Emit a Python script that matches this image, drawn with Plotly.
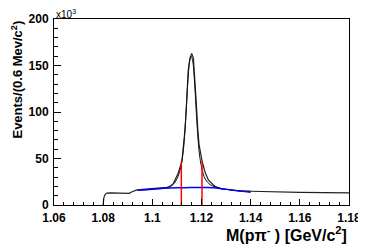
import plotly.graph_objects as go

# data (values in units of 10^3 events)
mass = [1.0800, 1.0803, 1.0808, 1.0815, 1.0830, 1.0850, 1.0870, 1.0890, 1.0905, 1.0920,
        1.0935, 1.0960, 1.1000, 1.1040, 1.1060, 1.1072, 1.1085, 1.1092, 1.1105, 1.1120,
        1.1128, 1.1133, 1.1140, 1.1146, 1.1153, 1.1160, 1.1167, 1.1171, 1.1178, 1.1185,
        1.1190, 1.1203, 1.1215, 1.1228, 1.1245, 1.1255, 1.1280, 1.1320, 1.1360, 1.1400,
        1.1500, 1.1600, 1.1700, 1.1800]
events = [0, 8, 11.5, 12.8, 13.0, 12.8, 12.5, 12.2, 12.5, 14.5,
          16.0, 16.8, 17.5, 18.3, 19.0, 20.0, 23.0, 27.0, 34.0, 46.5,
          65.0, 81.0, 113.0, 145.0, 158.0, 163.0, 158.0, 145.0, 113.0, 81.0,
          65.0, 46.5, 35.0, 27.0, 22.0, 20.0, 17.5, 16.0, 15.0, 14.8,
          14.0, 13.6, 13.3, 13.0]

fit_mass = [1.0940, 1.1000, 1.1050, 1.1080, 1.1100, 1.1115, 1.1125, 1.1135, 1.1145, 1.1152,
            1.1158, 1.1164, 1.1171, 1.1181, 1.1191, 1.1201, 1.1215, 1.1235, 1.1260, 1.1300,
            1.1350, 1.1400]
fit_vals = [16.0, 17.0, 18.3, 21.0, 28.0, 40.0, 56.0, 90.0, 135.0, 155.0,
            160.0, 155.0, 135.0, 90.0, 56.0, 40.0, 28.0, 22.0, 19.0, 16.8,
            15.5, 14.8]

bkg_mass = [1.094, 1.100, 1.105, 1.110, 1.116, 1.120, 1.125, 1.1325, 1.140]
bkg_vals = [16.0, 17.0, 18.0, 18.5, 18.8, 18.8, 18.6, 16.0, 13.7]

cut_mass = [1.1118, 1.1202]
cut_height = [46.5, 46.5]

x_ticks = [1.06, 1.08, 1.10, 1.12, 1.14, 1.16, 1.18]
x_ticklabels = ["1.06", "1.08", "1.1", "1.12", "1.14", "1.16", "1.18"]
y_ticks = [0, 50, 100, 150, 200]
y_ticklabels = ["0", "50", "100", "150", "200"]

FAM = "Liberation Sans, Arial, sans-serif"

fig = go.Figure()
fig.add_trace(go.Scatter(x=mass, y=events, mode="lines",
                         line=dict(color="#222222", width=1.2), showlegend=False))
fig.add_trace(go.Scatter(x=fit_mass, y=fit_vals, mode="lines",
                         line=dict(color="#111111", width=1.0, shape="spline"), showlegend=False))
fig.add_trace(go.Scatter(x=bkg_mass, y=bkg_vals, mode="lines",
                         line=dict(color="#0000ff", width=1.5, shape="spline"), showlegend=False))
for xm, h in zip(cut_mass, cut_height):
    fig.add_trace(go.Scatter(x=[xm, xm], y=[0, h], mode="lines",
                             line=dict(color="#ff0000", width=1.5), showlegend=False))

# page body has an 8px default margin, so the figure is offset by (8, 8)
fig.update_layout(
    template="none",
    width=358, height=240,
    margin=dict(l=46, r=17, t=11, b=43, pad=0),
    paper_bgcolor="white", plot_bgcolor="white",
    font=dict(family=FAM, color="black"),
    showlegend=False,
    xaxis=dict(range=[1.06, 1.18], tickvals=x_ticks,
               ticktext=["<b>%s</b>" % t for t in x_ticklabels],
               ticks="inside", ticklen=6, tickwidth=1, tickcolor="black",
               minor=dict(dtick=0.004, tick0=1.06, ticks="inside", ticklen=3, tickcolor="black", showgrid=False),
               showline=True, linecolor="black", linewidth=1, mirror=True,
               showgrid=False, zeroline=False, automargin=False,
               tickfont=dict(family=FAM, size=12, color="black"),
               ticklabelstandoff=2),
    yaxis=dict(range=[0, 200], tickvals=y_ticks,
               ticktext=["<b>%s</b>" % t for t in y_ticklabels],
               ticks="inside", ticklen=7, tickwidth=1, tickcolor="black",
               minor=dict(dtick=10, ticks="inside", ticklen=4, tickcolor="black", showgrid=False),
               showline=True, linecolor="black", linewidth=1, mirror=True,
               showgrid=False, zeroline=False, automargin=False,
               tickfont=dict(family=FAM, size=12, color="black"),
               ticklabelstandoff=2),
    annotations=[
        dict(text="x10<sup>3</sup>", xref="paper", yref="paper", x=0.0, y=0.985,
             xanchor="left", yanchor="bottom", showarrow=False,
             font=dict(family=FAM, size=10, color="black")),
        dict(text="<b>M(p\u03c0<sup>-</sup> ) [GeV/c<sup>2</sup>]</b>", xref="paper", yref="paper",
             x=1.0, y=-0.155, xanchor="right", yanchor="middle", showarrow=False,
             font=dict(family=FAM, size=16, color="black")),
        dict(text="<b>Events/(0.6 Mev/c<sup>2</sup>)</b>", xref="paper", yref="paper",
             x=-0.127, y=1.0, xanchor="center", yanchor="top", textangle=-90, showarrow=False,
             font=dict(family=FAM, size=13, color="black")),
    ],
)

fig.write_html("out.html")
